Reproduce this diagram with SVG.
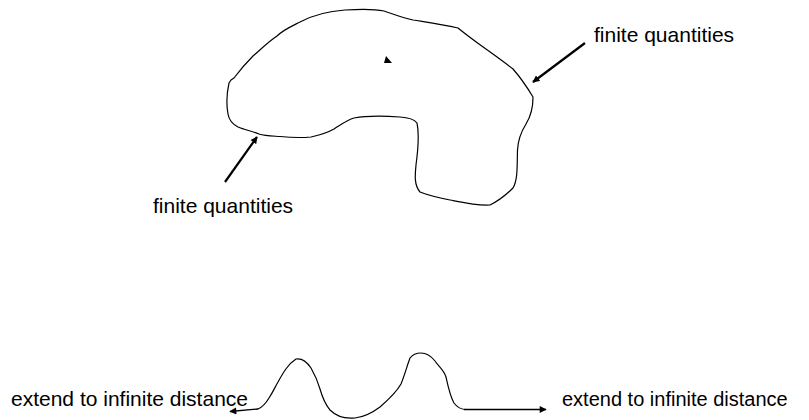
<svg xmlns="http://www.w3.org/2000/svg" width="809" height="420" viewBox="0 0 809 420">
<style>
.curve{fill:none;stroke:#000;stroke-width:1.2;stroke-linejoin:round;stroke-linecap:round}
.arr{fill:none;stroke:#000;stroke-width:2.2}
.thin{fill:none;stroke:#000;stroke-width:1.3}
.lbl{font-family:"Liberation Sans",Arial,sans-serif;fill:#000}
</style>
<defs>
<marker id="ah" viewBox="0 0 10 10" refX="9" refY="5" markerWidth="8" markerHeight="7" markerUnits="userSpaceOnUse" orient="auto">
<path d="M0,0 L10,5 L0,10 z" fill="#000"/>
</marker>
<marker id="ah2" viewBox="0 0 10 10" refX="9" refY="5" markerWidth="8" markerHeight="7" markerUnits="userSpaceOnUse" orient="auto">
<path d="M0,0 L10,5 L0,10 z" fill="#000"/>
</marker>
</defs>
<rect width="809" height="420" fill="#fff"/>
<g id="blob">
<path class="curve" d="M231,80 L229,83 C227,92 226,103 228,114 C229,120 232,124 238,127 C245,130 252,131 259,134 C265,136 272,136 280,136.5 C290,137.5 300,138 311,137 C320,135 327,133 334,129 C342,124 347,120 354,118 C365,116 385,116 400,117 C408,117.5 414,119 417,123 C419,132 418,150 416,165 C415,175 414,185 420,192 C430,196 440,198 450,200 C465,203 478,206 490,205 C498,201 505,196 513,188 C518,180 517,165 517.5,150 C518,140 521,132 526,124 C531,116 533,108 533,97 C527,87 520,77 513,69 C495,55 475,42 458,28 C440,24 425,22 413,20 C400,17 393,14 384,11 C375,9 360,9 345,10 C330,11 315,14 300,22 C290,27 283,30 277,36 C268,42 260,50 253,56 C246,63 240,70 234,78 Z"/>
<polygon points="386,56 384,63 392,63" fill="#000"/>
</g>
<g id="label-top-right">
<text class="lbl" x="594" y="41.5" font-size="21">finite quantities</text>
</g>
<g id="label-left">
<text class="lbl" x="153" y="213" font-size="21">finite quantities</text>
</g>
<g id="wave">
<path class="curve" d="M258,409 C263,407 266,403 269,398 C273,392 275,387 278,382 C283,373 288,364 296,359 C302,358 307,362 311,368 C315,375 318,382 320,389 C322,396 325,404 330,410 C336,416 345,419 355,418 C364,417 372,413 380,407 C388,400 396,393 401,384 C405,374 407,366 410,358 C413,354 416,353 421,353 C427,353 431,356 435,361 C439,367 444,370 446,377 C448,386 450,396 454,403 C457,407 460,409 465,409.5"/>
<line class="thin" x1="258" y1="409" x2="230" y2="411.5" marker-end="url(#ah2)"/>
<line class="thin" x1="464" y1="409.5" x2="546" y2="409.5" marker-end="url(#ah2)"/>
</g>
<g id="label-bottom-left">
<text class="lbl" x="11" y="406" font-size="21">extend to infinite distance</text>
</g>
<g id="label-bottom-right">
<text class="lbl" x="562" y="406" font-size="20">extend to infinite distance</text>
</g>
<g id="connectors">
<line class="arr" x1="225" y1="182" x2="257" y2="137" marker-end="url(#ah)"/>
<line class="arr" x1="585" y1="43" x2="533" y2="82" marker-end="url(#ah)"/>
</g>
</svg>
